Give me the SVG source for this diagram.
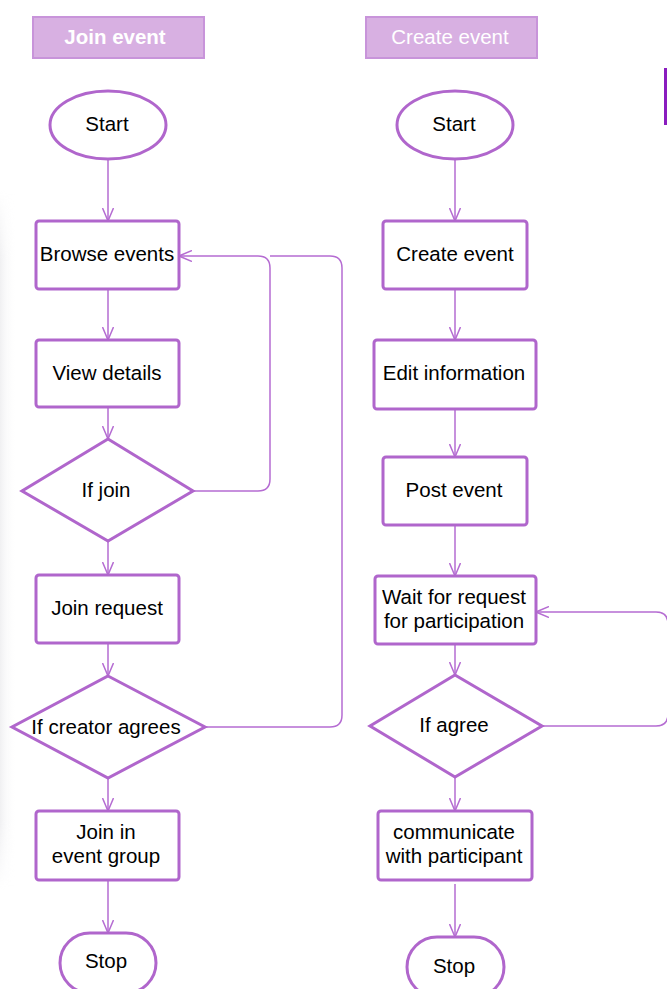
<svg xmlns="http://www.w3.org/2000/svg" width="667" height="989" viewBox="0 0 667 989">
<style>
.node{fill:#fff;stroke:#B066CC;stroke-width:3}
.hdr{fill:#D8B0E2;stroke:#C894DA;stroke-width:2}
.hdrt{font-family:"Liberation Sans",Arial,sans-serif;font-size:20.5px;fill:#fff;text-anchor:middle}
.t{font-family:"Liberation Sans",Arial,sans-serif;font-size:20.5px;fill:#000;text-anchor:middle}
.c{fill:none;stroke:#B56CD2;stroke-width:1.5}
</style>
<defs>
<marker id="arr" markerUnits="userSpaceOnUse" markerWidth="14" markerHeight="12" viewBox="0 0 14 12" refX="13" refY="6" orient="auto">
<path d="M0,0.5 L13,6 L0,11.5" fill="none" stroke="#B56CD2" stroke-width="1.5"/>
</marker>
<linearGradient id="shade" x1="0" y1="0" x2="1" y2="0">
<stop offset="0" stop-color="#f0f0f2"/>
<stop offset="1" stop-color="#ffffff" stop-opacity="0"/>
</linearGradient>
<linearGradient id="fadev" x1="0" y1="0" x2="0" y2="1">
<stop offset="0" stop-color="#fff" stop-opacity="0"/>
<stop offset="0.1" stop-color="#fff" stop-opacity="1"/>
<stop offset="0.9" stop-color="#fff" stop-opacity="1"/>
<stop offset="1" stop-color="#fff" stop-opacity="0"/>
</linearGradient>
<mask id="m"><rect x="0" y="190" width="20" height="700" fill="url(#fadev)"/></mask>
</defs>
<rect width="667" height="989" fill="#fff"/>
<rect x="0" y="190" width="16" height="700" fill="url(#shade)" mask="url(#m)"/>
<rect x="664" y="68" width="3" height="57" fill="#8A1DBF"/>

<g id="hdr-join"><rect class="hdr" x="33" y="17" width="171" height="41"/><text class="hdrt" x="115" y="44" font-weight="bold">Join event</text></g>
<g id="hdr-create"><rect class="hdr" x="366" y="17" width="171" height="41"/><text class="hdrt" x="450" y="44">Create event</text></g>

<g id="connectors">
<path class="c" d="M108,159 V221" marker-end="url(#arr)"/>
<path class="c" d="M108,289 V340" marker-end="url(#arr)"/>
<path class="c" d="M108,407 V439" marker-end="url(#arr)"/>
<path class="c" d="M108,541 V575" marker-end="url(#arr)"/>
<path class="c" d="M108,643 V676" marker-end="url(#arr)"/>
<path class="c" d="M108,778 V811" marker-end="url(#arr)"/>
<path class="c" d="M108,880 V933" marker-end="url(#arr)"/>
<path class="c" d="M205,727 H330 Q342,727 342,715 V268 Q342,256 330,256 H270"/>
<path class="c" d="M193,491 H258 Q270,491 270,479 V268 Q270,256 258,256 H179" marker-end="url(#arr)"/>
<path class="c" d="M455,159 V221" marker-end="url(#arr)"/>
<path class="c" d="M455,289 V340" marker-end="url(#arr)"/>
<path class="c" d="M455,409 V457" marker-end="url(#arr)"/>
<path class="c" d="M455,525 V576" marker-end="url(#arr)"/>
<path class="c" d="M455,644 V675" marker-end="url(#arr)"/>
<path class="c" d="M455,777 V811" marker-end="url(#arr)"/>
<path class="c" d="M455,884 V937" marker-end="url(#arr)"/>
<path class="c" d="M542,726 H656 Q668,726 668,714 V624 Q668,612 656,612 H536" marker-end="url(#arr)"/>
</g>

<g id="start-join"><ellipse class="node" cx="108" cy="125" rx="58" ry="34"/><text class="t" x="107" y="131">Start</text></g>
<g id="browse"><rect class="node" x="36" y="221" width="143" height="68" rx="3"/><text class="t" x="107" y="261">Browse events</text></g>
<g id="view"><rect class="node" x="36" y="340" width="143" height="67" rx="3"/><text class="t" x="107" y="380">View details</text></g>
<g id="ifjoin"><polygon class="node" points="108,439 193,491 108,541 22,491"/><text class="t" x="106" y="497">If join</text></g>
<g id="joinreq"><rect class="node" x="36" y="575" width="143" height="68" rx="3"/><text class="t" x="107" y="615">Join request</text></g>
<g id="ifcreator"><polygon class="node" points="108,676 205,727 108,778 12,727"/><text class="t" x="106" y="734">If creator agrees</text></g>
<g id="joingroup"><rect class="node" x="36" y="811" width="143" height="69" rx="3"/><text class="t" x="106" y="839">Join in</text><text class="t" x="106" y="863">event group</text></g>
<g id="stop-join"><rect class="node" x="60" y="933" width="96" height="60" rx="30"/><text class="t" x="106" y="968">Stop</text></g>

<g id="start-create"><ellipse class="node" cx="455" cy="125" rx="58" ry="34"/><text class="t" x="454" y="131">Start</text></g>
<g id="create"><rect class="node" x="383" y="221" width="144" height="68" rx="3"/><text class="t" x="455" y="261">Create event</text></g>
<g id="edit"><rect class="node" x="374" y="340" width="162" height="69" rx="3"/><text class="t" x="454" y="380">Edit information</text></g>
<g id="post"><rect class="node" x="383" y="457" width="144" height="68" rx="3"/><text class="t" x="454" y="497">Post event</text></g>
<g id="wait"><rect class="node" x="375" y="576" width="161" height="68" rx="3"/><text class="t" x="454" y="604">Wait for request</text><text class="t" x="454" y="628">for participation</text></g>
<g id="ifagree"><polygon class="node" points="455,675 542,726 455,777 370,726"/><text class="t" x="454" y="732">If agree</text></g>
<g id="communicate"><rect class="node" x="378" y="811" width="154" height="69" rx="3"/><text class="t" x="454" y="839">communicate</text><text class="t" x="454" y="863">with participant</text></g>
<g id="stop-create"><rect class="node" x="407" y="937" width="97" height="60" rx="30"/><text class="t" x="454" y="973">Stop</text></g>
</svg>
